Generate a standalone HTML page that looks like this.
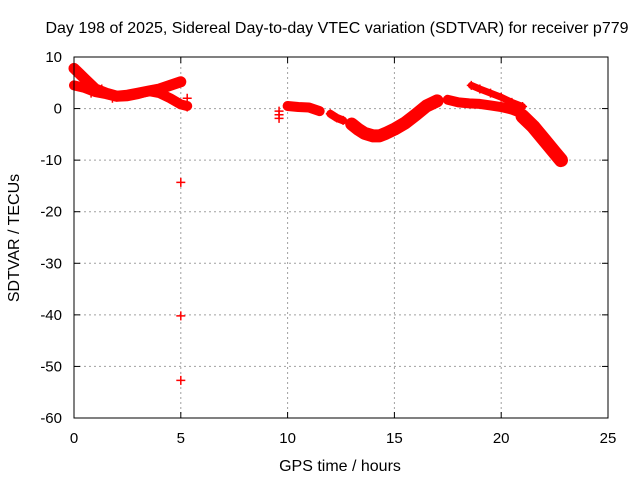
<!DOCTYPE html>
<html><head><meta charset="utf-8"><style>
body{margin:0;background:#fff;}
svg{display:block;font-family:"Liberation Sans",sans-serif;}
</style></head><body>
<svg id="chart" width="640" height="480">
<text x="337" y="33" text-anchor="middle" font-size="16">Day 198 of 2025, Sidereal Day-to-day VTEC variation (SDTVAR) for receiver p779</text>
<text x="340" y="471" text-anchor="middle" font-size="16">GPS time / hours</text>
<text transform="translate(19,238) rotate(-90)" text-anchor="middle" font-size="16">SDTVAR / TECUs</text>
<g id="grid"></g>
<g id="ticks"></g>
<g id="series"></g>
<rect x="74" y="57" width="534" height="361" fill="none" stroke="#000" stroke-width="1"/>
</svg>
<script>
const xTicks=[0,5,10,15,20,25];
const yTicks=[10,0,-10,-20,-30,-40,-50,-60];
const t1=[0,0.25,0.5,0.75,1,1.5,2,2.5,3,3.5,4,4.5,5];
const v1=[7.8,6.8,5.8,4.8,3.8,3,2.4,2.6,3,3.4,3.8,4.5,5.2];
const t2=[0,0.5,1,1.5,2,2.5,3,3.5,4,4.5,5,5.3];
const v2=[4.5,4,3.2,2.8,2.3,2.4,2.8,3.4,3,2,0.8,0.5];
const t3=[10,10.5,11,11.5];
const v3=[0.5,0.3,0.2,-0.5];
const t4=[12,12.3,12.6];
const v4=[-1,-1.8,-2.3];
const t5=[13,13.3,13.6,14,14.3,14.6,15,15.5,16,16.5,17];
const v5=[-3,-4,-4.8,-5.3,-5.3,-4.8,-4,-2.8,-1.2,0.5,1.5];
const t6=[17.5,18,18.5,19,19.5,20,20.5,21];
const v6=[1.7,1.2,1,0.9,0.6,0.3,-0.2,-1];
const t8=[21,21.5,22,22.5,22.8];
const v8=[-1.5,-3.5,-6,-8.5,-10];
const t7=[18.6,19,19.5,20,20.5,21];
const v7=[4.5,3.8,3,2.2,1.2,0.4];
const ptT=[5,5,5,9.6,9.6,9.6,5.3,5.3,0.8,1.3,1.8];
const ptV=[-14.3,-40.2,-52.7,-0.5,-1.2,-1.9,2,0.3,3,3.8,2];
const NS="http://www.w3.org/2000/svg";
const X=t=>74+t*(534/25);
const Y=v=>57+(10-v)*(361/70);
function mk(tag,attrs,parent){const e=document.createElementNS(NS,tag);for(const k in attrs)e.setAttribute(k,attrs[k]);parent.appendChild(e);return e;}
const grid=document.getElementById('grid'),ticks=document.getElementById('ticks'),ser=document.getElementById('series');
xTicks.forEach(t=>{
  if(t>0&&t<25){const l=mk('line',{x1:X(t),x2:X(t),y1:57,y2:418,stroke:'#a0a0a0','stroke-dasharray':'2,3'},grid);
  
  }
  mk('line',{x1:X(t),x2:X(t),y1:418,y2:412,stroke:'#000'},ticks);
  mk('line',{x1:X(t),x2:X(t),y1:57,y2:63,stroke:'#000'},ticks);
  const tx=mk('text',{x:X(t),y:443,'text-anchor':'middle','font-size':15},ticks);tx.textContent=t;
  
  
});
yTicks.forEach(v=>{
  if(v<10&&v>-60){const l=mk('line',{x1:74,x2:608,y1:Y(v),y2:Y(v),stroke:'#a0a0a0','stroke-dasharray':'2,3'},grid);
  
  }
  mk('line',{x1:74,x2:80,y1:Y(v),y2:Y(v),stroke:'#000'},ticks);
  mk('line',{x1:608,x2:602,y1:Y(v),y2:Y(v),stroke:'#000'},ticks);
  const tx=mk('text',{x:62,y:Y(v)+5,'text-anchor':'end','font-size':15},ticks);tx.textContent=v;
  
  
});
function plus(t,v){
  const x=X(t),y=Y(v);
  const p=mk('path',{d:`M${x-4.5},${y}H${x+4.5}M${x},${y-4.5}V${y+4.5}`,stroke:'#f00','stroke-width':1.5},ser);
  
  
}
function track(ts,vs,w){
  const d=ts.map((t,i)=>(i?'L':'M')+X(t)+','+Y(vs[i])).join('');
  const p=mk('path',{d:d,fill:'none',stroke:'#f00','stroke-width':w,'stroke-linejoin':'round','stroke-linecap':'round'},ser);
  
  
  ts.forEach((t,i)=>plus(t,vs[i]));
}
track(t1,v1,11);track(t2,v2,10);track(t3,v3,10);track(t4,v4,8);
track(t5,v5,13);track(t6,v6,10);track(t8,v8,14);track(t7,v7,7);
ptT.forEach((t,i)=>plus(t,ptV[i]));
</script>
</body></html>
